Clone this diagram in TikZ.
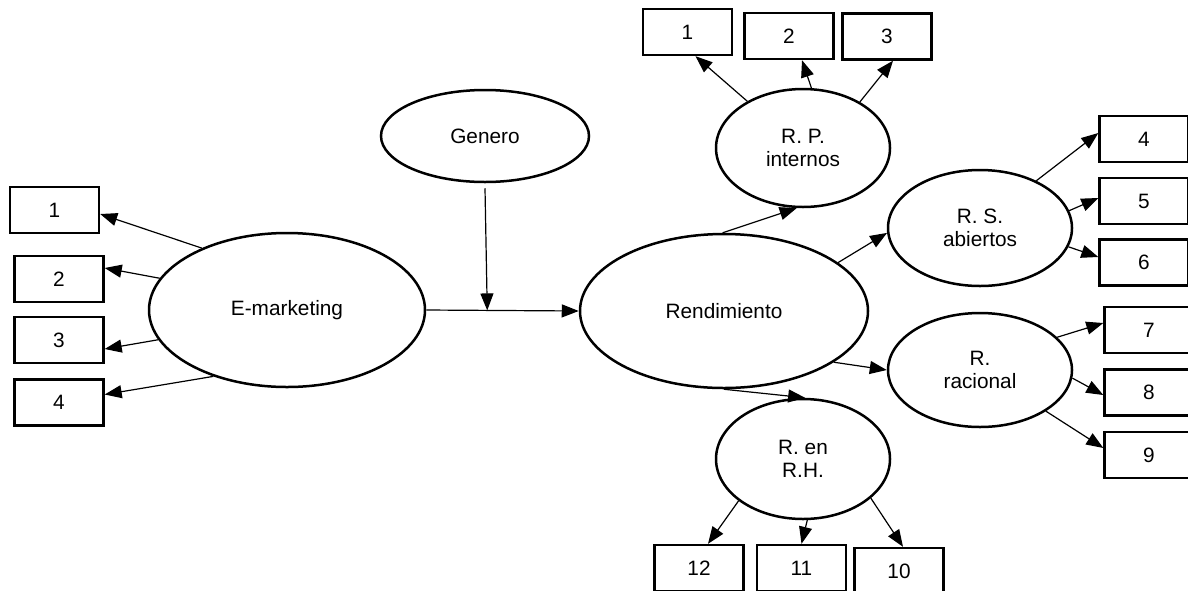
\documentclass[tikz,border=0pt]{standalone}
\usepackage{fontspec}
\setmainfont{Liberation Sans}
\usetikzlibrary{shapes.geometric,arrows.meta,calc}
\begin{document}
\begin{tikzpicture}[x=0.5pt,y=-0.5pt,
  lat/.style={ellipse,draw,line width=1.25pt,inner sep=0pt,align=center,font=\fontsize{10.4}{11.5}\selectfont},
  ind/.style={rectangle,draw,line width=1.2pt,minimum width=44.5pt,minimum height=23pt,inner sep=0pt,font=\fontsize{10.4}{12}\selectfont},
  arr/.style={line width=0.6pt,-{Triangle[length=8.5pt,width=6.5pt]}}]
\clip (0,0) rectangle (1188,590);
\fill[white] (0,0) rectangle (1188,590);
% latent variables
\node[lat,minimum width=138pt,minimum height=77pt] (em) at (287,310) {E-marketing};
\node[lat,minimum width=104pt,minimum height=46pt] (gen) at (485,136) {Genero};
\node[lat,minimum width=144pt,minimum height=77pt] (rend) at (724,311) {Rendimiento};
\node[lat,minimum width=87pt,minimum height=59pt] (rp) at (803,148) {R. P.\\internos};
\node[lat,minimum width=92pt,minimum height=58pt] (rs) at (980,228) {R. S.\\abiertos};
\node[lat,minimum width=92pt,minimum height=57pt] (rr) at (980,370) {R.\\racional};
\node[lat,minimum width=87pt,minimum height=60pt] (rh) at (803,459) {R. en\\R.H.};
% indicators left
\node[ind] (b1) at (54.5,210) {1};
\node[ind] (b2) at (59,279) {2};
\node[ind] (b3) at (59,340) {3};
\node[ind] (b4) at (59,402.5) {4};
% indicators top
\node[ind] (p1) at (687.5,32) {1};
\node[ind] (p2) at (789,36) {2};
\node[ind] (p3) at (887,36.5) {3};
% indicators right
\node[ind] (r4) at (1144,139) {4};
\node[ind] (r5) at (1144,201) {5};
\node[ind] (r6) at (1144,262.5) {6};
\node[ind] (r7) at (1149,330) {7};
\node[ind] (r8) at (1149,392.5) {8};
\node[ind] (r9) at (1149,455) {9};
% indicators bottom
\node[ind] (q12) at (699,568) {12};
\node[ind] (q11) at (801.5,568) {11};
\node[ind] (q10) at (899,571) {10};
% connectors
\draw[arr] (em.144) -- ([yshift=-2pt]b1.east);
\draw[arr] (em.166) -- ([yshift=5.5pt]b2.east);
\draw[arr] (em.193) -- ([yshift=-4.5pt]b3.east);
\draw[arr] (em.222) -- ([yshift=4pt]b4.east);
\coordinate (mid) at ($(em.east)!0.4!(rend.west)$);
\draw[arr] (em.east) -- (rend.west);
\draw[arr] ([yshift=-2.5pt]gen.south) -- (mid);
\draw[arr] (rend.91) -- (rp.264);
\draw[arr] (rend.23) -- (rs.183);
\draw[arr] (rend.-25.5) -- (rr.180);
\draw[arr] (rend.270) -- (rh.88);
\draw[arr] (rp.140.5) -- ([xshift=4pt]p1.south);
\draw[arr] (rp.82) -- ([xshift=6.5pt]p2.south);
\draw[arr] (rp.39.5) -- ([xshift=3pt]p3.south);
\draw[arr] (rs.40) -- ([yshift=3pt]r4.west);
\draw[arr] (rs.11.6) -- ([yshift=1.5pt]r5.west);
\draw[arr] (rs.-12) -- ([yshift=2.75pt]r6.west);
\draw[arr] (rr.23.2) -- ([yshift=3.5pt]r7.west);
\draw[arr] (rr.-5.6) -- ([yshift=-1.25pt]r8.west);
\draw[arr] (rr.-32) -- ([yshift=3.5pt]r9.west);
\draw[arr] (rh.213) -- ([xshift=4.5pt]q12.north);
\draw[arr] (rh.274) -- (q11.north);
\draw[arr] (rh.-30) -- ([xshift=2pt]q10.north);
\end{tikzpicture}
\end{document}
